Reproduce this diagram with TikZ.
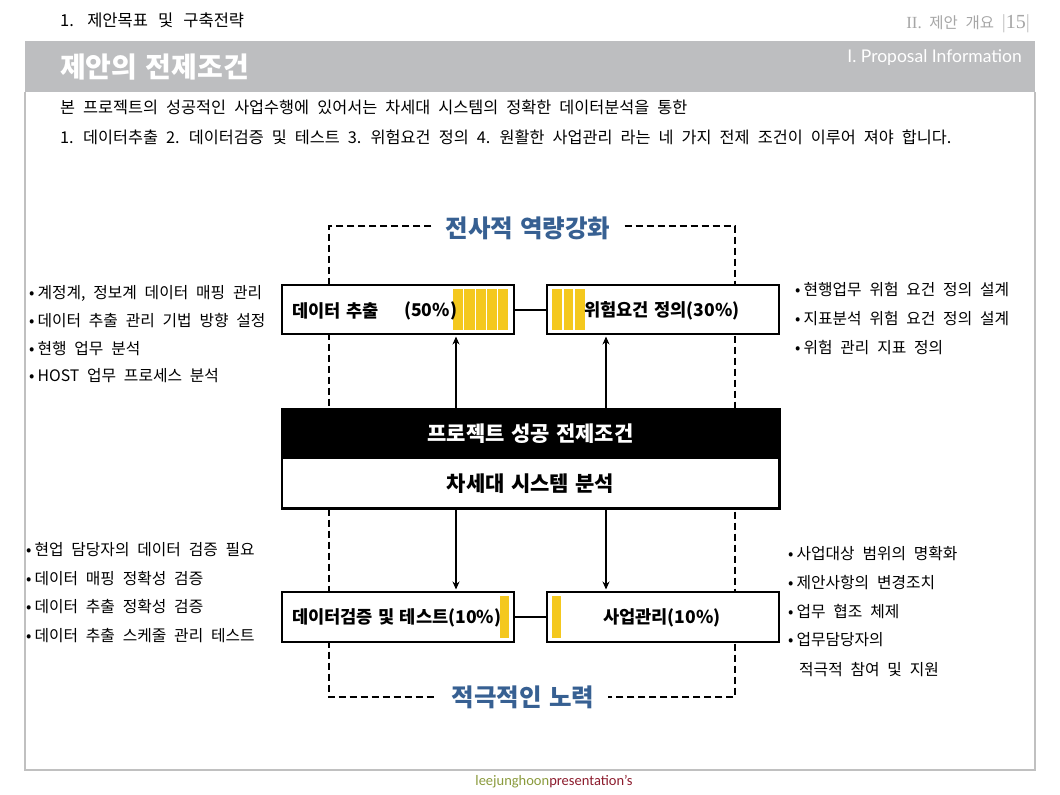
\documentclass[tikz,border=0pt]{standalone}
\usepackage{fontspec}
\setmainfont{Noto Sans CJK KR}[WordSpace=2.2, BoldFeatures={WordSpace=1.3}]
\newfontfamily\latofont{Lato}
\newfontfamily\footfont{Carlito}
\newfontfamily\serfont{Liberation Serif}
\usetikzlibrary{arrows.meta}
\definecolor{band}{RGB}{189,190,192}
\definecolor{framec}{RGB}{192,192,192}
\definecolor{bluelbl}{RGB}{55,96,146}
\definecolor{barc}{RGB}{244,200,30}
\definecolor{hdrgray}{RGB}{166,166,166}
\definecolor{olivec}{RGB}{138,154,60}
\definecolor{winec}{RGB}{140,28,45}
\tikzset{
  bodytxt/.style={anchor=west, inner sep=0pt, font=\fontsize{16.3}{19}\selectfont},
  bul/.style={anchor=west, inner sep=0pt, font=\fontsize{15.8}{18}\selectfont},
  boxc/.style={draw, line width=2.6pt, fill=white, inner sep=0pt, minimum width=232pt, minimum height=49pt},
  boxtxt/.style={inner sep=0pt, font=\bfseries\fontsize{17.6}{21}\selectfont},
  arr/.style={-{Stealth[length=8pt,width=7pt]}, line width=2pt},
  dashline/.style={dash pattern=on 7pt off 4pt, line width=2.6pt},
  lbl/.style={text=bluelbl, font=\bfseries\fontsize{24.5}{28}\selectfont, inner xsep=14pt, inner ysep=0pt},
  conn/.style={line width=2pt},
  ctxt/.style={font=\bfseries\fontsize{21}{25}\selectfont}
}
\begin{document}
\begin{tikzpicture}[x=1pt,y=-1pt]
\useasboundingbox (0,0) rectangle (1060,795);
% header
\node[anchor=west, inner sep=0pt, font=\fontsize{16.5}{19}\selectfont] (hdr) at (60,20) {1.\hspace{4pt} 제안목표 \hspace{2pt}및\hspace{2pt} 구축전략};
\node[anchor=east, inner sep=0pt, text=hdrgray, font=\fontsize{15.5}{18}\selectfont] (pg) at (1030,24) {{\serfont\fontsize{17}{20}\selectfont II.} 제안 개요 {\serfont\fontsize{20}{22}\selectfont\textcolor{framec}{|}15\textcolor{framec}{|}}};
\fill[band] (25,41) rectangle (1035,92);
\draw[framec, line width=1.5pt] (25,92) -- (25,770) -- (1035,770) -- (1035,92);
\node[anchor=west, inner sep=0pt, text=white, font=\bfseries\fontsize{28}{32}\selectfont] (title) at (60,67) {제안의 전제조건};
\node[anchor=east, inner sep=0pt, text=white, font=\latofont\fontsize{17.5}{20}\selectfont] (prop) at (1022,58) {I. Proposal Information};
\node[bodytxt] (l1) at (60,107) {본 프로젝트의 성공적인 사업수행에 있어서는 차세대 시스템의 정확한 데이터분석을 통한};
\node[bodytxt] (l2) at (60,137) {1. 데이터추출 2. 데이터검증 및 테스트 3. 위험요건 정의 4. 원활한 사업관리 라는 네 가지 전제 조건이 이루어 져야 합니다.};
% dashed frame
\coordinate (ftl) at (329,226);
\coordinate (ftr) at (735,226);
\coordinate (fbl) at (329,697);
\coordinate (fbr) at (735,697);
\node[lbl] (lt) at (528,228) {전사적 역량강화};
\node[lbl] (lb) at (523,697) {적극적인 노력};
\draw[dashline] (lt.west |- ftl) -- (ftl) -- (fbl) -- (lb.west |- fbl);
\draw[dashline] (lt.east |- ftr) -- (ftr) -- (fbr) -- (lb.east |- fbr);
% boxes
\node[boxc] (b1) at (398,309.5) {};
\node[boxc] (b2) at (663,309.5) {};
\node[boxc, minimum height=50pt] (b3) at (398,617) {};
\node[boxc, minimum height=50pt] (b4) at (663,617) {};
\foreach \i in {0,...,4} {\fill[barc] (453+11.3*\i,289) rectangle ++(10.2,41);}
\foreach \i in {0,...,2} {\fill[barc] (552.3+11.3*\i,289) rectangle ++(9.6,41);}
\fill[barc] (500,596) rectangle (509,638);
\fill[barc] (552,596) rectangle (561,638);
\node[boxtxt, anchor=west] (t1a) at (292,311) {데이터 추출};
\node[boxtxt, anchor=west] (t1b) at (404,311) {(50\%)};
\node[boxtxt] (t2) at (662,311) {위험요건 정의(30\%)};
\node[boxtxt, anchor=west] (t3) at (292,618) {데이터검증 및 테스트(10\%)};
\node[boxtxt] (t4) at (662,618) {사업관리(10\%)};
\draw[conn] (b1.east) -- (b2.west);
\draw[conn] (b3.east) -- (b4.west);
% center
\node[fill=black, inner sep=0pt, minimum width=497pt, minimum height=50pt, text=white, ctxt] (ctop) at (530.5,434) {프로젝트 성공 전제조건};
\node[fill=white, inner sep=0pt, minimum width=497pt, minimum height=49pt, ctxt] (cbot) at (530.5,483.5) {차세대 시스템 분석};
\draw[line width=2.6pt] (ctop.north west) rectangle (cbot.south east);
\coordinate (axl) at (456,0);
\coordinate (axr) at (606,0);
\draw[arr, shorten >=1.2pt] (ctop.north -| axl) -- (b1.south -| axl);
\draw[arr, shorten >=1.2pt] (ctop.north -| axr) -- (b2.south -| axr);
\draw[arr, shorten >=1.2pt] (cbot.south -| axl) -- (b3.north -| axl);
\draw[arr, shorten >=1.2pt] (cbot.south -| axr) -- (b4.north -| axr);
% bullets
\node[bul] (p1) at (29,293) {•\hspace{3pt}계정계, 정보계 데이터 매핑 관리};
\node[bul] (p2) at (29,321) {•\hspace{3pt}데이터 추출 관리 기법 방향 설정};
\node[bul] (p3) at (29,349) {•\hspace{3pt}현행 업무 분석};
\node[bul] (p4) at (29,376) {•\hspace{3pt}HOST 업무 프로세스 분석};
\node[bul] (q1) at (795,290) {•\hspace{3pt}현행업무 위험 요건 정의 설계};
\node[bul] (q2) at (795,319) {•\hspace{3pt}지표분석 위험 요건 정의 설계};
\node[bul] (q3) at (795,348) {•\hspace{3pt}위험 관리 지표 정의};
\node[bul] (r1) at (26,550) {•\hspace{3pt}현업 담당자의 데이터 검증 필요};
\node[bul] (r2) at (26,579) {•\hspace{3pt}데이터 매핑 정확성 검증};
\node[bul] (r3) at (26,607) {•\hspace{3pt}데이터 추출 정확성 검증};
\node[bul] (r4) at (26,636) {•\hspace{3pt}데이터 추출 스케줄 관리 테스트};
\node[bul] (s1) at (788,554) {•\hspace{3pt}사업대상 범위의 명확화};
\node[bul] (s2) at (788,583) {•\hspace{3pt}제안사항의 변경조치};
\node[bul] (s3) at (788,612) {•\hspace{3pt}업무 협조 체제};
\node[bul] (s4) at (788,640) {•\hspace{3pt}업무담당자의};
\node[bul] (s5) at (799,670) {적극적 참여 및 지원};
% footer
\node[inner sep=0pt, font=\footfont\fontsize{14.5}{17}\selectfont] (foot) at (554,782) {\textcolor{olivec}{leejunghoon}\textcolor{winec}{presentation’s}};
\end{tikzpicture}
\end{document}
